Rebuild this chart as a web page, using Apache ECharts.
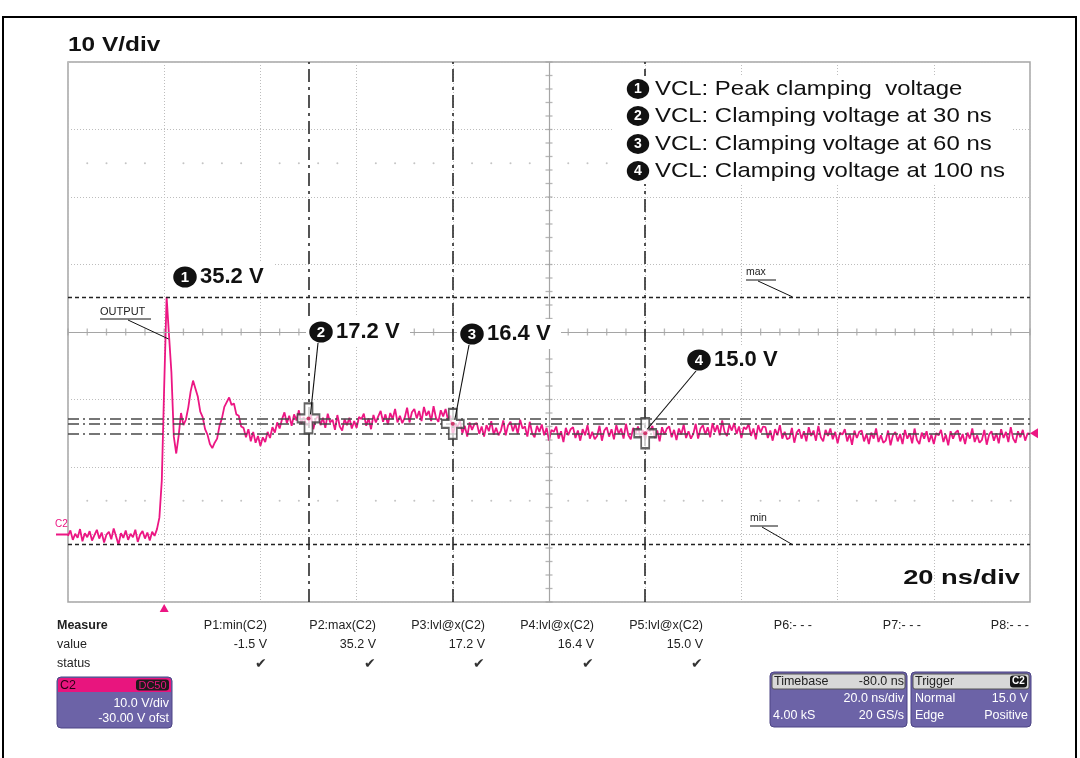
<!DOCTYPE html>
<html><head><meta charset="utf-8">
<script src="https://cdn.jsdelivr.net/npm/echarts/dist/echarts.min.js"></script>
<style>html,body{margin:0;padding:0;background:#fff;}#c{width:1080px;height:758px;}</style>
</head><body><div id="c"></div>
<script>
// ---------------- DATA ----------------
const T_START = -20, T_STEP = 0.5;
const baselineV = [-0.2,0.6,-0.8,0.1,-0.5,0.8,-1.0,0.2,-0.4,0.5,-0.9,-0.1,0.7,-0.6,0.3,-1.2,0.0,0.4,-0.7,0.9,-0.3,-1.5,0.2,-0.5,0.6,-0.8,0.1,-0.4,0.7,-1.1,0.0,0.5,-0.6,0.3,-0.9,0.4,-0.2,0.8];
const ringingV = [2.5,8.0,22.0,35.2,29.5,24.0,14.5,12.0,14.6,18.0,16.2,17.0,18.8,21.2,22.8,21.6,20.4,18.2,17.4,15.6,14.8,13.4,12.8,13.6,14.2,16.1,17.2,18.9,19.6,20.3,19.2,19.4,17.8,17.6,16.0,15.8,14.4,15.6,13.8,15.2,13.6,14.6,13.1,14.4,13.7,15.2,14.3,15.9,15.1,16.6,15.7,17.1];
const plateauV = [18.1,16.5,17.6,16.1,17.8,16.9,18.4,16.4,17.4,16.3,
  16.3,17.8,15.6,17.1,17.6,16.2,17.3,15.8,17.9,16.6,
  17.0,15.5,17.7,16.0,15.4,17.1,16.2,17.3,15.7,16.8,
  15.8,17.4,17.1,17.9,16.1,17.2,15.6,17.7,16.6,17.5,
  18.3,16.7,17.8,16.3,18.0,17.1,18.6,16.6,17.6,16.5,
  17.3,18.8,16.6,18.1,18.6,17.2,18.3,16.8,18.9,17.6,
  18.3,16.8,19.0,17.3,16.7,18.4,17.5,18.6,17.0,17.6];
const tailV = [14.7,16.3,16.0,16.8,15.0,16.1,14.5,16.6,15.5,16.4,
  16.5,14.9,16.0,14.5,16.2,15.3,16.8,14.8,15.8,14.7,
  15.4,16.9,14.7,16.2,16.7,15.3,16.4,14.9,17.0,15.7,
  16.0,14.5,16.7,15.0,14.4,16.1,15.2,16.3,14.7,15.8,
  13.9,15.5,15.2,16.0,14.2,15.3,13.7,15.8,14.7,15.6,
  15.9,14.3,15.4,13.9,15.6,14.7,16.2,14.2,15.2,14.1,
  14.6,16.1,13.9,15.4,15.9,14.5,15.6,14.1,16.2,14.9,
  15.7,14.2,16.4,14.7,14.1,15.8,14.9,16.0,14.4,15.5,
  14.0,15.6,15.3,16.1,14.3,15.4,13.8,15.9,14.8,15.7,
  16.0,14.4,15.5,14.0,15.7,14.8,16.3,14.3,15.3,14.2,
  14.9,16.4,14.2,15.7,16.2,14.8,15.9,14.4,16.5,15.2,
  16.2,14.7,16.9,15.2,14.6,16.3,15.4,16.5,14.9,16.0,
  14.3,15.9,15.6,16.4,14.6,15.7,14.1,16.2,15.1,16.0,
  15.9,14.3,15.4,13.9,15.6,14.7,16.2,14.2,15.2,14.1,
  14.3,15.8,13.6,15.1,15.6,14.2,15.3,13.8,15.9,14.6,
  15.4,13.9,16.1,14.4,13.8,15.5,14.6,15.7,14.1,15.2,
  13.5,15.1,14.8,15.6,13.8,14.9,13.3,15.4,14.3,15.2,
  15.4,13.8,14.9,13.4,15.1,14.2,15.7,13.7,14.7,13.6,
  13.9,15.4,13.2,14.7,15.2,13.8,14.9,13.4,15.5,14.2,
  15.0,13.5,15.7,14.0,13.4,15.1,14.2,15.3,13.7,14.8,
  13.4,15.0,14.7,15.5,13.7,14.8,13.2,15.3,14.2,15.1,
  15.4,13.8,14.9,13.4,15.1,14.2,15.7,13.7,14.7,13.6,
  14.0,15.5,13.3,14.8,15.3,13.9,15.0,13.5,15.6,14.3,
  15.2,13.7,15.9,14.2,13.6,15.3,14.4,15.5,13.9,15.0,
  14.9];
const voltC2 = baselineV.concat(ringingV, plateauV, tailV);

const axisTime = { min: -20, max: 180, step: 20 };   // 20 ns/div
const axisVolt = { min: -10, max: 70, step: 10 };    // 10 V/div
const peakV = 35.2, minV = -1.5;
const cursorTimes = [30, 60, 100];
const cursorLevels = [17.2, 16.4, 15.0];
const triggerLevel = 15.0;

const legendLines = ['VCL: Peak clamping  voltage', 'VCL: Clamping voltage at 30 ns', 'VCL: Clamping voltage at 60 ns', 'VCL: Clamping voltage at 100 ns'];
const calloutNums = ['1', '2', '3', '4'];
const calloutTexts = ['35.2 V', '17.2 V', '16.4 V', '15.0 V'];
const measHeaders = ['P1:min(C2)', 'P2:max(C2)', 'P3:lvl@x(C2)', 'P4:lvl@x(C2)', 'P5:lvl@x(C2)', 'P6:- - -', 'P7:- - -', 'P8:- - -'];
const measValues = ['-1.5 V', '35.2 V', '17.2 V', '16.4 V', '15.0 V', '', '', ''];
const measStatus = [true, true, true, true, true, false, false, false];

// ---------------- CHART ----------------
const traceData = voltC2.map((v, i) => [T_START + i * T_STEP, v]);
const FONT = 'Liberation Sans, Arial, Helvetica, sans-serif';
const TRACE = '#ec1683';

const centerTicks = [];
for (let t = axisTime.min; t <= axisTime.max; t += 4) centerTicks.push({ value: [t, 30], symbolSize: [1.3, 7] });
for (let v = axisVolt.min; v <= axisVolt.max; v += 2) centerTicks.push({ value: [80, v], symbolSize: [7, 1.3] });
const gridDots = [];
for (let t = axisTime.min; t <= axisTime.max; t += 4) {
  if (((t - axisTime.min) % 20) !== 0) { gridDots.push([t, 5]); gridDots.push([t, 55]); }
}

const chart = echarts.init(document.getElementById('c'), null, { renderer: 'canvas' });
const crossPath = 'path://M7,0 L15,0 L15,11 L22,11 L22,19 L15,19 L15,30 L7,30 L7,19 L0,19 L0,11 L7,11 Z';

chart.setOption({
  animation: false,
  backgroundColor: '#ffffff',
  grid: { left: 68, right: 50, top: 62, bottom: 156, show: true, borderColor: '#a5a5a5', borderWidth: 1.5 },
  xAxis: {
    type: 'value', min: axisTime.min, max: axisTime.max, interval: axisTime.step,
    axisLine: { show: false }, axisTick: { show: false }, axisLabel: { show: false },
    splitLine: { show: true, lineStyle: { color: '#bdbdbd', type: [1, 2], width: 1 } }
  },
  yAxis: {
    type: 'value', min: axisVolt.min, max: axisVolt.max, interval: axisVolt.step,
    axisLine: { show: false }, axisTick: { show: false }, axisLabel: { show: false },
    splitLine: { show: true, lineStyle: { color: '#bdbdbd', type: [1, 2], width: 1 } }
  },
  series: [
    { type: 'line', data: [], z: 1, silent: true,
      markLine: { silent: true, symbol: 'none', label: { show: false },
        lineStyle: { color: '#a5a5a5', type: 'solid', width: 1.2 },
        data: [{ yAxis: 30 }, { xAxis: 80 }] } },
    { type: 'scatter', data: centerTicks, symbol: 'rect', silent: true, z: 1,
      itemStyle: { color: '#a5a5a5' } },
    { type: 'scatter', data: gridDots, symbol: 'circle', symbolSize: 2, silent: true, z: 1,
      itemStyle: { color: '#b5b5b5' } },
    { type: 'line', data: traceData, showSymbol: false, symbol: 'none', z: 3, silent: true,
      lineStyle: { color: TRACE, width: 1.8 }, sampling: false },
    { type: 'line', data: [], z: 4, silent: true,
      markLine: { silent: true, symbol: 'none', label: { show: false }, animation: false,
        data: [
          { yAxis: peakV, lineStyle: { color: '#222', type: [4, 3], width: 1.4 } },
          { yAxis: minV, lineStyle: { color: '#222', type: [4, 3], width: 1.4 } }
        ].concat(cursorLevels.map(v => ({ yAxis: v, lineStyle: { color: '#4a4a4a', type: [11, 4, 2, 4], width: 1.6 } })))
         .concat(cursorTimes.map(t => ({ xAxis: t, lineStyle: { color: '#2a2a2a', type: [13, 5, 3, 5], width: 1.6 } })))
      } },
    { type: 'scatter', data: cursorTimes.map((t, i) => [t, cursorLevels[i]]), symbol: crossPath,
      symbolSize: [22, 30], z: 6, silent: true,
      itemStyle: { color: 'rgba(255,255,255,0.92)', borderColor: '#3c3c3c', borderWidth: 2 } },
    { type: 'scatter', data: cursorTimes.map((t, i) => [t, cursorLevels[i]]), symbol: 'circle',
      symbolSize: 4, z: 7, silent: true, itemStyle: { color: '#c8104f' } }
  ]
});

// ---------------- ANNOTATIONS (graphic) ----------------
const px = (t, v) => chart.convertToPixel({ gridIndex: 0 }, [t, v]);
const G = [];
function text(x, y, s, o) {
  o = o || {};
  G.push({ type: 'text', x: x, y: y, scaleX: o.sx || 1, z: o.z || 100, silent: true,
    style: { text: s, font: (o.w || 'normal') + ' ' + (o.size || 13) + 'px ' + FONT, fill: o.fill || '#111',
      textAlign: o.align || 'left', textVerticalAlign: 'middle' } });
}
function rect(x, y, w, h, o) {
  G.push({ type: 'rect', z: o.z || 90, silent: true, shape: { x: x, y: y, width: w, height: h, r: o.r || 0 },
    style: { fill: o.fill || 'none', stroke: o.stroke || null, lineWidth: o.lw || 1 } });
}
function line(x1, y1, x2, y2, o) {
  o = o || {};
  G.push({ type: 'line', z: o.z || 95, silent: true, shape: { x1: x1, y1: y1, x2: x2, y2: y2 },
    style: { stroke: o.stroke || '#111', lineWidth: o.lw || 1 } });
}
function badge(cx, cy, n, r, size) {
  G.push({ type: 'circle', x: cx, y: cy, scaleX: 1.12, z: 101, silent: true, shape: { cx: 0, cy: 0, r: r }, style: { fill: '#111' } });
  text(cx, cy + 0.5, n, { w: 'bold', size: size, fill: '#fff', align: 'center', z: 102 });
}

// outer figure frame
rect(3, 17, 1073, 760, { stroke: '#000', lw: 2, z: 110 });

// axis scale labels
text(68, 45, '10 V/div', { w: 'bold', size: 20, sx: 1.22 });
text(1020, 578, '20 ns/div', { w: 'bold', size: 21, sx: 1.3, align: 'right' });

// legend block
rect(612, 76, 400, 108, { fill: '#fff', z: 80 });
const legY = [89, 116, 144, 171];
legendLines.forEach((s, i) => {
  badge(638, legY[i], calloutNums[i], 10, 14);
  text(655, legY[i], s, { size: 21, sx: 1.14 });
});

// callouts
const calloutPos = [[185, 277], [321, 332], [472, 334], [699, 360]];
calloutTexts.forEach((s, i) => {
  const c = calloutPos[i];
  rect(c[0] - 15, c[1] - 15, 104, 30, { fill: '#fff', z: 80 });
  badge(c[0], c[1], calloutNums[i], 10.5, 15);
  text(c[0] + 15, c[1], s, { w: 'bold', size: 22 });
});
// leader lines to cursors
cursorTimes.forEach((t, i) => {
  const p = px(t, cursorLevels[i]);
  const c = calloutPos[i + 1];
  line(c[0] - 3, c[1] + 11, p[0] + 2, p[1] - 4, { lw: 1.1 });
});

// OUTPUT / max / min labels
text(100, 312, 'OUTPUT', { size: 10.5, fill: '#222', sx: 1.05 });
line(100, 319, 151, 319, { lw: 1 });
const pk = px(0.5, 30);
line(128, 320, pk[0] + 2, pk[1] + 7, { lw: 1 });
const mx = px(130, peakV), mn = px(130, minV);
text(746, 272, 'max', { size: 10.5, fill: '#222' });
line(746, 280, 776, 280, { lw: 1 });
line(758, 281, mx[0] + 3, mx[1], { lw: 1 });
text(750, 518, 'min', { size: 10.5, fill: '#222' });
line(750, 526, 778, 526, { lw: 1 });
line(762, 527, mn[0] + 3, mn[1], { lw: 1 });

// channel / trigger markers
const z0 = px(axisTime.min, 0);
text(55, 524, 'C2', { size: 10, fill: TRACE });
line(56, z0[1], z0[0], z0[1], { stroke: TRACE, lw: 2 });
const tr = px(0, axisVolt.min);
G.push({ type: 'polygon', z: 100, silent: true, shape: { points: [[tr[0] - 4.5, tr[1] + 10], [tr[0] + 4.5, tr[1] + 10], [tr[0], tr[1] + 2]] }, style: { fill: TRACE } });
const tl = px(axisTime.max, triggerLevel);
G.push({ type: 'polygon', z: 100, silent: true, shape: { points: [[tl[0], tl[1]], [tl[0] + 8, tl[1] - 5], [tl[0] + 8, tl[1] + 5]] }, style: { fill: TRACE } });

// measurement table
text(57, 626, 'Measure', { w: 'bold', size: 12.5, fill: '#222' });
text(57, 645, 'value', { size: 12.5, fill: '#222' });
text(57, 664, 'status', { size: 12.5, fill: '#222' });
const colX = [267, 376, 485, 594, 703, 812, 921, 1029];
measHeaders.forEach((h, i) => {
  text(colX[i], 626, h, { size: 12.5, fill: '#222', align: 'right' });
  if (measValues[i]) text(colX[i], 645, measValues[i], { size: 12.5, fill: '#222', align: 'right' });
  if (measStatus[i]) text(colX[i], 664, '\u2714', { size: 14, fill: '#333', align: 'right' });
});

// channel box
const PURPLE = '#6c63a7';
rect(57, 677, 115, 51, { fill: PURPLE, stroke: '#4d4585', r: 4 });
rect(58, 678, 113, 14, { fill: '#e8157e', r: [3, 3, 0, 0], z: 91 });
text(60, 685.5, 'C2', { size: 12.5, fill: '#2a0016', z: 101 });
rect(136, 679.5, 33, 11, { fill: '#1b1b1b', r: 3, z: 92 });
text(152.5, 685.5, 'DC50', { size: 11, fill: '#e8157e', align: 'center', z: 101 });
text(169, 704, '10.0 V/div', { size: 12.5, fill: '#fff', align: 'right' });
text(169, 719, '-30.00 V ofst', { size: 12.5, fill: '#fff', align: 'right' });

// timebase box
rect(770, 672, 137, 55, { fill: PURPLE, stroke: '#4d4585', r: 4 });
rect(772, 674, 133, 15, { fill: '#d8d8d8', stroke: '#555', r: 2, z: 91 });
text(774, 681.5, 'Timebase', { size: 12.5, fill: '#222' });
text(904, 681.5, '-80.0 ns', { size: 12.5, fill: '#222', align: 'right' });
text(904, 699, '20.0 ns/div', { size: 12.5, fill: '#fff', align: 'right' });
text(773, 716, '4.00 kS', { size: 12.5, fill: '#fff' });
text(904, 716, '20 GS/s', { size: 12.5, fill: '#fff', align: 'right' });

// trigger box
rect(911, 672, 120, 55, { fill: PURPLE, stroke: '#4d4585', r: 4 });
rect(913, 674, 116, 15, { fill: '#d8d8d8', stroke: '#555', r: 2, z: 91 });
text(915, 681.5, 'Trigger', { size: 12.5, fill: '#222' });
rect(1010, 675.5, 17, 12, { fill: '#151515', r: 3, z: 92 });
text(1018.5, 681.5, 'C2', { size: 10, w: 'bold', fill: '#fff', align: 'center', z: 101 });
text(915, 699, 'Normal', { size: 12.5, fill: '#fff' });
text(1028, 699, '15.0 V', { size: 12.5, fill: '#fff', align: 'right' });
text(915, 716, 'Edge', { size: 12.5, fill: '#fff' });
text(1028, 716, 'Positive', { size: 12.5, fill: '#fff', align: 'right' });

chart.setOption({ graphic: { elements: G } });
</script>
</body></html>
